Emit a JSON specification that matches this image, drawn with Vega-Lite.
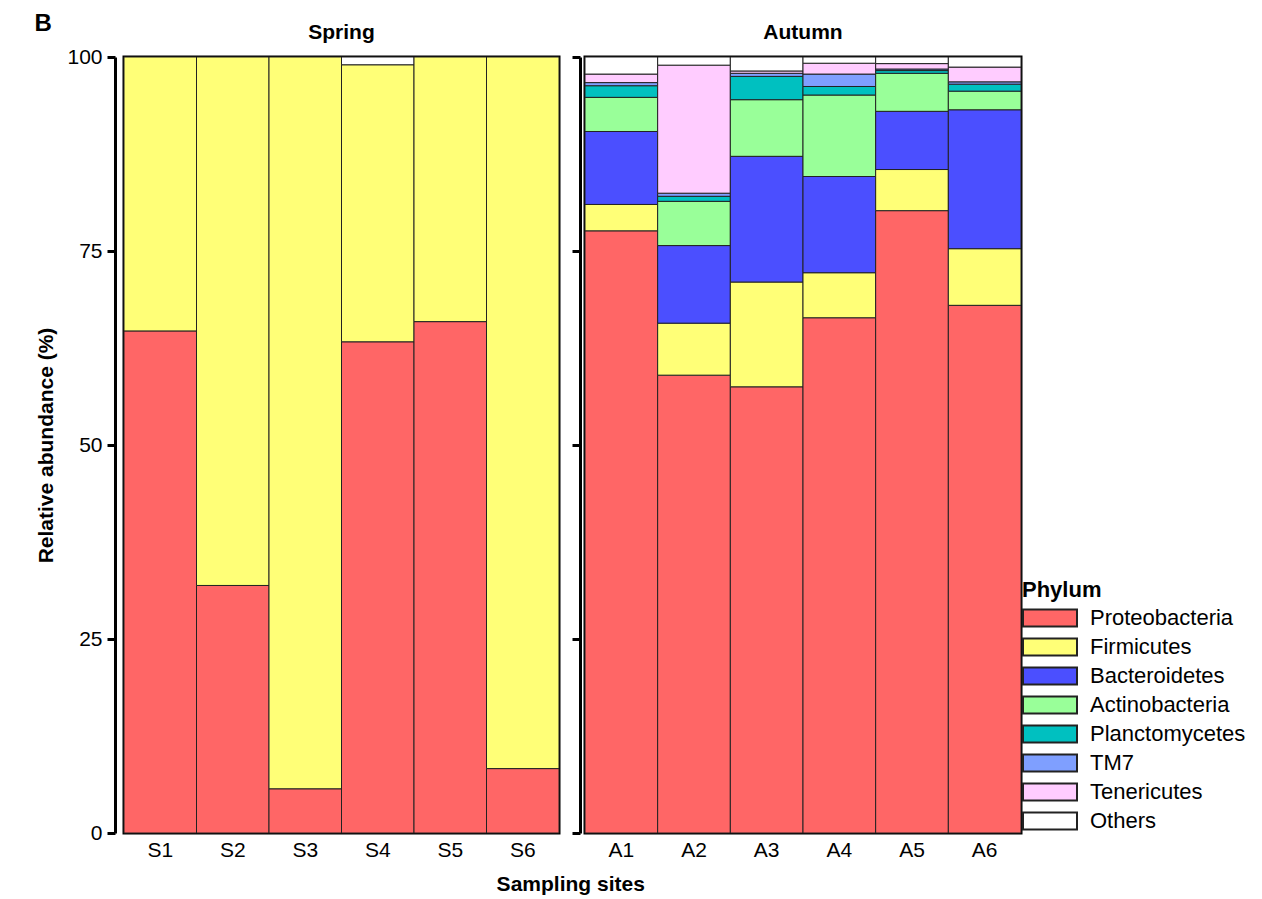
{
  "$schema": "https://vega.github.io/schema/vega-lite/v6.json",
  "padding": {"left": 34, "top": 12, "right": 5, "bottom": 5},
  "background": "white",
  "config": {
    "font": "Liberation Sans",
    "view": {"stroke": "black", "strokeWidth": 3},
    "axis": {
      "labelFont": "Liberation Sans",
      "labelFontSize": 21,
      "labelColor": "black",
      "titleFont": "Liberation Sans",
      "titleFontSize": 21,
      "titleFontWeight": "bold",
      "titleColor": "black",
      "domainColor": "black",
      "tickColor": "black",
      "grid": false
    },
    "title": {"font": "Liberation Sans", "color": "black"}
  },
  "title": {"text": "B", "anchor": "start", "fontSize": 24, "fontWeight": "bold", "offset": -16},
  "data": {
    "values": [
      {"season": "Spring", "site": "S1", "phylum": "Proteobacteria", "value": 64.7},
      {"season": "Spring", "site": "S1", "phylum": "Firmicutes", "value": 35.3},
      {"season": "Spring", "site": "S2", "phylum": "Proteobacteria", "value": 31.9},
      {"season": "Spring", "site": "S2", "phylum": "Firmicutes", "value": 68.1},
      {"season": "Spring", "site": "S3", "phylum": "Proteobacteria", "value": 5.7},
      {"season": "Spring", "site": "S3", "phylum": "Firmicutes", "value": 94.3},
      {"season": "Spring", "site": "S4", "phylum": "Proteobacteria", "value": 63.3},
      {"season": "Spring", "site": "S4", "phylum": "Firmicutes", "value": 35.7},
      {"season": "Spring", "site": "S4", "phylum": "Others", "value": 1.0},
      {"season": "Spring", "site": "S5", "phylum": "Proteobacteria", "value": 65.9},
      {"season": "Spring", "site": "S5", "phylum": "Firmicutes", "value": 34.1},
      {"season": "Spring", "site": "S6", "phylum": "Proteobacteria", "value": 8.3},
      {"season": "Spring", "site": "S6", "phylum": "Firmicutes", "value": 91.7},

      {"season": "Autumn", "site": "A1", "phylum": "Proteobacteria", "value": 77.6},
      {"season": "Autumn", "site": "A1", "phylum": "Firmicutes", "value": 3.4},
      {"season": "Autumn", "site": "A1", "phylum": "Bacteroidetes", "value": 9.4},
      {"season": "Autumn", "site": "A1", "phylum": "Actinobacteria", "value": 4.4},
      {"season": "Autumn", "site": "A1", "phylum": "Planctomycetes", "value": 1.5},
      {"season": "Autumn", "site": "A1", "phylum": "TM7", "value": 0.4},
      {"season": "Autumn", "site": "A1", "phylum": "Tenericutes", "value": 1.1},
      {"season": "Autumn", "site": "A1", "phylum": "Others", "value": 2.2},

      {"season": "Autumn", "site": "A2", "phylum": "Proteobacteria", "value": 59.0},
      {"season": "Autumn", "site": "A2", "phylum": "Firmicutes", "value": 6.7},
      {"season": "Autumn", "site": "A2", "phylum": "Bacteroidetes", "value": 10.0},
      {"season": "Autumn", "site": "A2", "phylum": "Actinobacteria", "value": 5.7},
      {"season": "Autumn", "site": "A2", "phylum": "Planctomycetes", "value": 0.65},
      {"season": "Autumn", "site": "A2", "phylum": "TM7", "value": 0.4},
      {"season": "Autumn", "site": "A2", "phylum": "Tenericutes", "value": 16.5},
      {"season": "Autumn", "site": "A2", "phylum": "Others", "value": 1.05},

      {"season": "Autumn", "site": "A3", "phylum": "Proteobacteria", "value": 57.5},
      {"season": "Autumn", "site": "A3", "phylum": "Firmicutes", "value": 13.5},
      {"season": "Autumn", "site": "A3", "phylum": "Bacteroidetes", "value": 16.2},
      {"season": "Autumn", "site": "A3", "phylum": "Actinobacteria", "value": 7.3},
      {"season": "Autumn", "site": "A3", "phylum": "Planctomycetes", "value": 3.0},
      {"season": "Autumn", "site": "A3", "phylum": "TM7", "value": 0.4},
      {"season": "Autumn", "site": "A3", "phylum": "Tenericutes", "value": 0.3},
      {"season": "Autumn", "site": "A3", "phylum": "Others", "value": 1.8},

      {"season": "Autumn", "site": "A4", "phylum": "Proteobacteria", "value": 66.4},
      {"season": "Autumn", "site": "A4", "phylum": "Firmicutes", "value": 5.8},
      {"season": "Autumn", "site": "A4", "phylum": "Bacteroidetes", "value": 12.4},
      {"season": "Autumn", "site": "A4", "phylum": "Actinobacteria", "value": 10.5},
      {"season": "Autumn", "site": "A4", "phylum": "Planctomycetes", "value": 1.1},
      {"season": "Autumn", "site": "A4", "phylum": "TM7", "value": 1.6},
      {"season": "Autumn", "site": "A4", "phylum": "Tenericutes", "value": 1.4},
      {"season": "Autumn", "site": "A4", "phylum": "Others", "value": 0.8},

      {"season": "Autumn", "site": "A5", "phylum": "Proteobacteria", "value": 80.2},
      {"season": "Autumn", "site": "A5", "phylum": "Firmicutes", "value": 5.3},
      {"season": "Autumn", "site": "A5", "phylum": "Bacteroidetes", "value": 7.5},
      {"season": "Autumn", "site": "A5", "phylum": "Actinobacteria", "value": 4.9},
      {"season": "Autumn", "site": "A5", "phylum": "Planctomycetes", "value": 0.35},
      {"season": "Autumn", "site": "A5", "phylum": "TM7", "value": 0.2},
      {"season": "Autumn", "site": "A5", "phylum": "Tenericutes", "value": 0.7},
      {"season": "Autumn", "site": "A5", "phylum": "Others", "value": 0.85},

      {"season": "Autumn", "site": "A6", "phylum": "Proteobacteria", "value": 68.0},
      {"season": "Autumn", "site": "A6", "phylum": "Firmicutes", "value": 7.3},
      {"season": "Autumn", "site": "A6", "phylum": "Bacteroidetes", "value": 17.9},
      {"season": "Autumn", "site": "A6", "phylum": "Actinobacteria", "value": 2.4},
      {"season": "Autumn", "site": "A6", "phylum": "Planctomycetes", "value": 0.9},
      {"season": "Autumn", "site": "A6", "phylum": "TM7", "value": 0.3},
      {"season": "Autumn", "site": "A6", "phylum": "Tenericutes", "value": 1.9},
      {"season": "Autumn", "site": "A6", "phylum": "Others", "value": 1.3}
    ]
  },
  "transform": [
    {"calculate": "indexof(['Proteobacteria','Firmicutes','Bacteroidetes','Actinobacteria','Planctomycetes','TM7','Tenericutes','Others'], datum.phylum)", "as": "ord"}
  ],
  "hconcat": [
    {
      "title": {"text": "Sampling sites", "orient": "bottom", "anchor": "middle", "fontSize": 21, "fontWeight": "bold", "offset": 12, "frame": "bounds", "dx": 42},
      "spacing": 8,
      "hconcat": [
        {
          "width": 435,
          "height": 776,
          "title": {"text": "Spring", "fontSize": 21, "fontWeight": "bold", "offset": 3},
          "transform": [{"filter": "datum.season === 'Spring'"}],
          "mark": {"type": "bar", "stroke": "#222", "strokeWidth": 1},
          "encoding": {
            "x": {"field": "site", "type": "nominal", "sort": null,
              "scale": {"paddingInner": 0, "paddingOuter": 0},
              "axis": {"title": null, "labelAngle": 0, "domain": false, "ticks": false, "labelPadding": 6}},
            "y": {"field": "value", "type": "quantitative", "stack": "zero",
              "scale": {"domain": [0, 100], "nice": false},
              "axis": {"title": "Relative abundance (%)", "values": [0, 25, 50, 75, 100], "offset": 9, "tickSize": 8, "tickWidth": 3, "domainWidth": 3, "labelPadding": 5, "titlePadding": 10}},
            "order": {"field": "ord", "type": "quantitative", "sort": "ascending"},
            "color": {"field": "phylum", "type": "nominal",
              "sort": ["Proteobacteria", "Firmicutes", "Bacteroidetes", "Actinobacteria", "Planctomycetes", "TM7", "Tenericutes", "Others"],
              "scale": {"domain": ["Proteobacteria", "Firmicutes", "Bacteroidetes", "Actinobacteria", "Planctomycetes", "TM7", "Tenericutes", "Others"],
                "range": ["#FF6666", "#FFFF77", "#4B4FFF", "#99FF99", "#00C0C0", "#7F9FFF", "#FFCCFF", "#FFFFFF"]},
              "legend": {
                "title": "Phylum", "orient": "none", "legendX": 898, "legendY": 523,
                "titleFontSize": 22, "titleFontWeight": "bold", "titleColor": "black", "titleFont": "Liberation Sans",
                "labelFontSize": 22, "labelColor": "black", "labelFont": "Liberation Sans", "labelOffset": 24,
                "symbolType": "M-1.8,-0.567H1.8V0.567H-1.8Z", "symbolSize": 900, "symbolOffset": 12, "symbolStrokeColor": "#888", "symbolStrokeWidth": 2, "symbolOpacity": 1,
                "rowPadding": 0, "titlePadding": 0
              }}
          }
        },
        {
          "width": 436,
          "height": 776,
          "title": {"text": "Autumn", "fontSize": 21, "fontWeight": "bold", "offset": 13},
          "transform": [{"filter": "datum.season === 'Autumn'"}],
          "mark": {"type": "bar", "stroke": "#222", "strokeWidth": 1},
          "encoding": {
            "x": {"field": "site", "type": "nominal", "sort": null,
              "scale": {"paddingInner": 0, "paddingOuter": 0},
              "axis": {"title": null, "labelAngle": 0, "domain": false, "ticks": false, "labelPadding": 6}},
            "y": {"field": "value", "type": "quantitative", "stack": "zero",
              "scale": {"domain": [0, 100], "nice": false},
              "axis": {"title": null, "labels": false, "values": [0, 25, 50, 75, 100], "offset": 5, "tickSize": 8, "tickWidth": 3, "domainWidth": 3}},
            "order": {"field": "ord", "type": "quantitative", "sort": "ascending"},
            "color": {"field": "phylum", "type": "nominal",
              "sort": ["Proteobacteria", "Firmicutes", "Bacteroidetes", "Actinobacteria", "Planctomycetes", "TM7", "Tenericutes", "Others"]}
          }
        }
      ]
    }
  ]
}
